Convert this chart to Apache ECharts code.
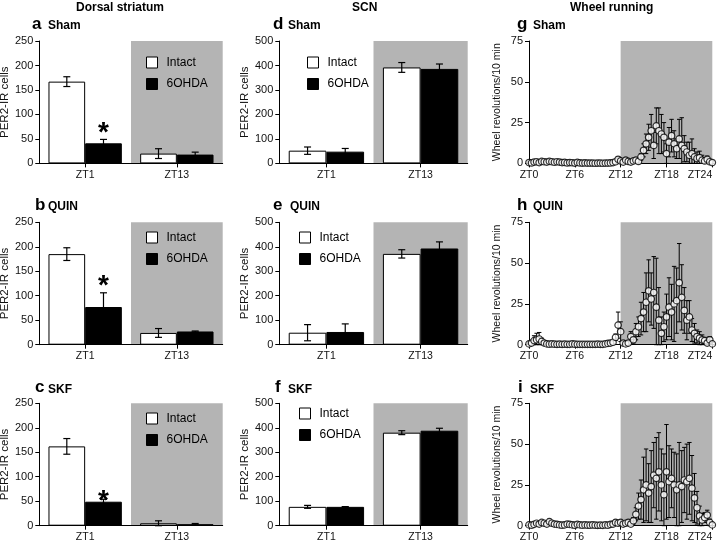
<!DOCTYPE html>
<html><head><meta charset="utf-8">
<script src="https://cdn.jsdelivr.net/npm/echarts@6/dist/echarts.min.js"></script>
<style>html,body{margin:0;padding:0;background:#fff}#c{width:720px;height:543px}</style>
</head><body><div id="c"></div>
<script>
const FONT = "'Liberation Sans', Arial, Helvetica, sans-serif";
const SHADE = '#b4b4b4';

// ---- categories / labels ----
const barCategories = ['ZT1', 'ZT13'];
const darkCategory = 'ZT13';
const legendNames = ['Intact', '6OHDA'];
const regionTitles = ['Dorsal striatum', 'SCN', 'Wheel running'];
const panelLetters = ['a', 'b', 'c', 'd', 'e', 'f', 'g', 'h', 'i'];
const groupNames = ['Sham', 'QUIN', 'SKF'];
const darkPhase = [12, 24];

// ---- Dorsal striatum (PER2-IR cells) ----
const aIntact = [167, 20], aIntactErr = [10, 10], aOhda = [41, 18], aOhdaErr = [8, 5], aStar = [61, null];
const bIntact = [185, 24], bIntactErr = [13, 9], bOhda = [77, 27], bOhdaErr = [29, 1], bStar = [120, null];
const cIntact = [162, 5], cIntactErr = [16, 5], cOhda = [49, 3], cOhdaErr = [5, 1.5], cStar = [49, null];
// ---- SCN (PER2-IR cells) ----
const dIntact = [52, 392], dIntactErr = [15, 20], dOhda = [48, 386], dOhdaErr = [13, 20];
const eIntact = [49, 371], eIntactErr = [33, 17], eOhda = [52, 393], eOhdaErr = [33, 27];
const fIntact = [77, 380], fIntactErr = [6, 8], fOhda = [77, 388], fOhdaErr = [1, 10];

// ---- Wheel running (revolutions / 10 min), 20-min bins ZT0..ZT24 ----
const gVal = [0.5,0.3,0.8,1,0.5,1.2,1,0.8,1.3,1,0.7,1,
  0.8,0.5,0.6,0.3,0.5,0.4,0.2,0.6,0.3,0.2,0.3,0.2,
  0.2,0.2,0.1,0.2,0.2,0.1,0.2,0.2,0.3,0.5,1,2.5,
  1.5,0.8,2,1.2,0.8,1.5,2,1.2,4,
  8,12,16,20,11,23,20,18,16,6,13,17,12,9,15,11,9,7,5,6,4,3,3.5,2,1.5,2.5,1,0.5];
const gErr = [0.5,0.5,1,1,0.8,1,1,0.8,1,0.8,0.6,0.8,
  0.6,0.5,0.5,0.4,0.4,0.4,0.3,0.5,0.3,0.3,0.3,0.3,
  0.3,0.3,0.2,0.3,0.3,0.2,0.3,0.3,0.4,0.5,1,1.5,
  1,0.8,1.5,1,0.8,1,1.5,1,2,
  4,6,8,10,8,11,14,12,9,6,9,10,8,6,12,17,8,6,8,9,5,4,4,3,2,2,1,1];
const hVal = [0.5,1,2.5,3,3.5,2,1,0.5,0.3,0.5,0.3,0.2,
  0.3,0.2,0.3,0.2,0.2,0.5,0.3,0.2,0.2,0.2,0.2,0.2,
  0.2,0.2,0.2,0.3,0.2,0.2,0.5,0.8,1,1.5,4.5,12,
  8,1,0.5,1,5,3,8,11,16,
  20,26,33,28,32,23,15,7,11,17,23,20,25,27,38,29,21,15,17,9,7,5,4,3,2.5,1,3,0.5];
const hErr = [0.5,1,3,4,4,2,1,0.5,0.3,0.5,0.3,0.2,
  0.3,0.2,0.3,0.2,0.2,0.4,0.3,0.2,0.2,0.2,0.2,0.2,
  0.2,0.2,0.2,0.3,0.2,0.2,0.4,0.6,0.8,1,2,8,
  6,1,0.5,1,3,2,5,6,10,
  12,18,19,16,22,30,20,10,9,14,18,17,23,20,24,20,14,12,10,7,6,4,4,3,2,1,2,1];
const iVal = [0.5,0.3,0.8,1.5,1,2,1.5,1,2.5,1.5,1,0.8,
  0.5,0.3,0.5,1,0.8,0.5,0.3,0.8,0.5,0.3,0.5,0.3,
  0.3,0.5,0.3,0.2,0.3,0.2,0.5,0.3,0.8,1,2,1.5,
  2,1,1.5,2,1,3,7,12,16,
  22,25,20,24,31,29,33,25,19,33,27,29,25,22,25,24,28,27,29,23,17,11,6,3.5,5,6.5,2,0.5];
const iErr = [0.5,0.3,0.8,1,0.8,1.2,1,0.8,1.5,1,0.8,0.6,
  0.4,0.3,0.4,0.6,0.5,0.4,0.3,0.5,0.4,0.3,0.4,0.3,
  0.3,0.4,0.3,0.2,0.3,0.2,0.4,0.3,0.6,0.8,1.5,1,
  1.5,0.8,1,1.5,0.8,2,4,8,12,
  20,22,18,22,20,25,24,22,25,29,22,18,20,22,26,22,20,23,22,20,15,10,6,4,3,3,2,1];
const binMinutes = 20;
const wheelTimes = gVal.map((_, k) => k * binMinutes / 60);

// ---- layout ----
const colLayout = [{left: 39.3, width: 183.4}, {left: 279.3, width: 188.4}, {left: 529, width: 183.3}];
const rowTops = [41, 222.3, 403.3];
const PLOT_H = 122.4;

const barPanels = [
  [{intact: aIntact, intactErr: aIntactErr, ohda: aOhda, ohdaErr: aOhdaErr, star: aStar},
   {intact: bIntact, intactErr: bIntactErr, ohda: bOhda, ohdaErr: bOhdaErr, star: bStar},
   {intact: cIntact, intactErr: cIntactErr, ohda: cOhda, ohdaErr: cOhdaErr, star: cStar}],
  [{intact: dIntact, intactErr: dIntactErr, ohda: dOhda, ohdaErr: dOhdaErr},
   {intact: eIntact, intactErr: eIntactErr, ohda: eOhda, ohdaErr: eOhdaErr},
   {intact: fIntact, intactErr: fIntactErr, ohda: fOhda, ohdaErr: fOhdaErr}]
];
const barScales = [{max: 250, step: 50}, {max: 500, step: 100}];
const wheelPanels = [[gVal, gErr], [hVal, hErr], [iVal, iErr]];
const wheelScale = {max: 75, step: 25};

const axisLineS = {show: true, onZero: false, lineStyle: {color: '#000', width: 1}};
const axisTickS = {show: true, length: 4, lineStyle: {color: '#000', width: 1}};
const yLabelS = {color: '#111', fontSize: 11, fontFamily: FONT};
const xLabelS = {color: '#111', fontSize: 10.5, fontFamily: FONT};

function bandShade(params, api) {
  const idx = api.value(0), top = api.value(1);
  const bw = api.size([1, 0])[0];
  const p1 = api.coord([idx, top]), p0 = api.coord([idx, 0]);
  return {type: 'rect', shape: {x: p1[0] - bw / 2, y: p1[1], width: bw, height: p0[1] - p1[1]}, style: {fill: SHADE}};
}
function spanShade(params, api) {
  const a = api.coord([api.value(0), api.value(2)]), b = api.coord([api.value(1), 0]);
  return {type: 'rect', shape: {x: a[0], y: a[1], width: b[0] - a[0], height: b[1] - a[1]}, style: {fill: SHADE}};
}
function whisker(cx, yT, yB, cap, lw) {
  const st = {stroke: '#000', lineWidth: lw};
  return {type: 'group', children: [
    {type: 'line', shape: {x1: cx, y1: yT, x2: cx, y2: yB}, style: st},
    {type: 'line', shape: {x1: cx - cap, y1: yT, x2: cx + cap, y2: yT}, style: st},
    {type: 'line', shape: {x1: cx - cap, y1: yB, x2: cx + cap, y2: yB}, style: st}
  ]};
}
function barErr(side) {
  return function (params, api) {
    const idx = api.value(0), v = api.value(1), e = api.value(2);
    const bw = api.size([1, 0])[0];
    const cx = api.coord([idx, v])[0] + side * bw * 0.2;
    const yT = api.coord([idx, v + e])[1], yB = api.coord([idx, Math.max(0, v - e)])[1];
    return whisker(cx, yT, yB, 3.5, 1.2);
  };
}
function starRender(params, api) {
  const idx = api.value(0), v = api.value(1);
  const bw = api.size([1, 0])[0];
  const p = api.coord([idx, v]);
  return {type: 'text', x: p[0] + bw * 0.2, y: p[1],
    style: {text: '*', fill: '#000', font: 'bold 28px ' + FONT, align: 'center', verticalAlign: 'middle'}};
}
function pointErr(params, api) {
  const t = api.value(0), v = api.value(1), e = api.value(2);
  const x = api.coord([t, v])[0];
  const yT = api.coord([t, v + e])[1], yB = api.coord([t, Math.max(0, v - e)])[1];
  return whisker(x, yT, yB, 2.2, 1);
}

const grids = [], xAxes = [], yAxes = [], series = [];
for (let c = 0; c < 3; c++) {
  for (let r = 0; r < 3; r++) {
    const gi = c * 3 + r;
    grids.push({left: colLayout[c].left, width: colLayout[c].width, top: rowTops[r], height: PLOT_H,
      containLabel: false, outerBoundsMode: 'none'});
    if (c < 2) {
      const sc = barScales[c];
      xAxes.push({type: 'category', gridIndex: gi, data: barCategories, z: 3,
        axisLine: axisLineS, axisTick: Object.assign({alignWithLabel: true}, axisTickS),
        axisLabel: Object.assign({margin: 6}, xLabelS), splitLine: {show: false}});
      yAxes.push({type: 'value', gridIndex: gi, min: 0, max: sc.max, interval: sc.step, z: 3,
        name: 'PER2-IR cells', nameLocation: 'middle', nameGap: 26,
        nameTextStyle: {fontSize: 11.5, fontFamily: FONT, color: '#111'},
        axisLine: axisLineS, axisTick: axisTickS, axisLabel: Object.assign({margin: 6}, yLabelS),
        splitLine: {show: false}});
      const p = barPanels[c][r];
      series.push({type: 'custom', xAxisIndex: gi, yAxisIndex: gi, z: 1, silent: true,
        renderItem: bandShade, data: [[barCategories.indexOf(darkCategory), sc.max]]});
      series.push({type: 'bar', name: legendNames[0], xAxisIndex: gi, yAxisIndex: gi, z: 2,
        barGap: '0%', barCategoryGap: '20%', data: p.intact,
        itemStyle: {color: '#fff', borderColor: '#000', borderWidth: 1}});
      series.push({type: 'bar', name: legendNames[1], xAxisIndex: gi, yAxisIndex: gi, z: 2,
        barGap: '0%', barCategoryGap: '20%', data: p.ohda,
        itemStyle: {color: '#000', borderColor: '#000', borderWidth: 1}});
      series.push({type: 'custom', xAxisIndex: gi, yAxisIndex: gi, z: 4, silent: true,
        renderItem: barErr(-1), data: p.intact.map((v, k) => [k, v, p.intactErr[k]])});
      series.push({type: 'custom', xAxisIndex: gi, yAxisIndex: gi, z: 4, silent: true,
        renderItem: barErr(1), data: p.ohda.map((v, k) => [k, v, p.ohdaErr[k]])});
      if (p.star) {
        series.push({type: 'custom', xAxisIndex: gi, yAxisIndex: gi, z: 5, silent: true,
          renderItem: starRender,
          data: p.star.map((v, k) => [k, v]).filter(d => d[1] !== null)});
      }
    } else {
      xAxes.push({type: 'value', gridIndex: gi, min: 0, max: 24, interval: 6, z: 3,
        axisLine: axisLineS, axisTick: axisTickS,
        axisLabel: Object.assign({margin: 6, alignMaxLabel: 'right', formatter: v => 'ZT' + v}, xLabelS),
        splitLine: {show: false}});
      yAxes.push({type: 'value', gridIndex: gi, min: 0, max: wheelScale.max, interval: wheelScale.step, z: 3,
        name: 'Wheel revolutions/10 min', nameLocation: 'middle', nameGap: 26,
        nameTextStyle: {fontSize: 10.5, fontFamily: FONT, color: '#111'},
        axisLine: axisLineS, axisTick: axisTickS, axisLabel: Object.assign({margin: 6}, yLabelS),
        splitLine: {show: false}});
      const [vals, errs] = wheelPanels[r];
      series.push({type: 'custom', xAxisIndex: gi, yAxisIndex: gi, z: 1, silent: true,
        renderItem: spanShade, encode: {x: [0, 1], y: 2}, data: [[darkPhase[0], darkPhase[1], wheelScale.max]]});
      series.push({type: 'custom', xAxisIndex: gi, yAxisIndex: gi, z: 4, silent: true,
        renderItem: pointErr, encode: {x: 0, y: 1},
        data: vals.map((v, k) => [wheelTimes[k], v, errs[k]])});
      series.push({type: 'scatter', xAxisIndex: gi, yAxisIndex: gi, z: 5, silent: true,
        symbol: 'circle', symbolSize: 6.5,
        itemStyle: {color: '#fff', borderColor: '#000', borderWidth: 1.2},
        data: vals.map((v, k) => [wheelTimes[k], v])});
    }
  }
}

// ---- texts ----
const titleX = [76, 352, 570];
const letterX = [32, 35, 35, 273, 273, 275, 517, 517, 518];
const groupX = [48, 48, 48, 288, 290, 288, 533, 533, 530];
const letterTop = [15.5, 196.5, 379];
const groupTop = [19.5, 200.8, 383.2];
const titles = [];
regionTitles.forEach((t, c) => titles.push({text: t, left: titleX[c], top: 1.8, padding: 0,
  textStyle: {fontSize: 12, fontWeight: 'bold', fontFamily: FONT, color: '#000', lineHeight: 12}}));
panelLetters.forEach((L, gi) => {
  const r = gi % 3;
  titles.push({text: L, left: letterX[gi], top: letterTop[r], padding: 0,
    textStyle: {fontSize: 17, fontWeight: 'bold', fontFamily: FONT, color: '#000', lineHeight: 17}});
  titles.push({text: groupNames[r], left: groupX[gi], top: groupTop[r], padding: 0,
    textStyle: {fontSize: 12, fontWeight: 'bold', fontFamily: FONT, color: '#000', lineHeight: 12}});
});

const legendPos = [[146, 56.5], [146, 231.5], [146, 412.5], [307, 56.5], [299, 231.5], [299, 407.5]];
const legends = legendPos.map(p => ({
  left: p[0], top: p[1], orient: 'vertical', itemWidth: 11, itemHeight: 11, itemGap: 9.5,
  padding: 0, selectedMode: false, z: 10, icon: 'rect',
  textStyle: {fontSize: 12, fontFamily: FONT, color: '#000', lineHeight: 12, padding: [0, 0, 0, 4]},
  data: [
    {name: legendNames[0], itemStyle: {color: '#fff', borderColor: '#000', borderWidth: 1}},
    {name: legendNames[1], itemStyle: {color: '#000', borderColor: '#000', borderWidth: 1}}
  ]
}));

const chart = echarts.init(document.getElementById('c'), null, {renderer: 'canvas'});
chart.setOption({
  animation: false,
  backgroundColor: '#fff',
  textStyle: {fontFamily: FONT},
  title: titles,
  legend: legends,
  grid: grids,
  xAxis: xAxes,
  yAxis: yAxes,
  series: series
});
</script></body></html>
